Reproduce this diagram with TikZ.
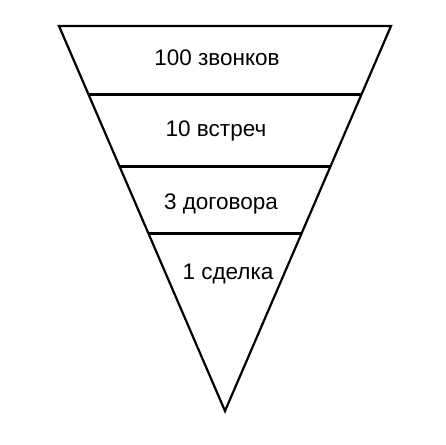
\documentclass[tikz,border=0pt]{standalone}
\usepackage{fontspec}
\setmainfont{Liberation Sans}
\usetikzlibrary{calc}

\begin{document}
\begin{tikzpicture} [x=1pt,y=-1pt]
\useasboundingbox (0,0) rectangle (446,444);
\tikzset{lbl/.style={anchor=base, inner sep=0pt, font=\fontsize{22.5}{26}\selectfont}}
\coordinate (tl) at (59,26);
\coordinate (tr) at (391,26);
\coordinate (ap) at (225,411);
\draw[black, line width=2.2pt, line join=miter] (tl)--(tr)--(ap)--cycle;
\foreach \y in {95,166,233} {
 \draw[black, line width=3pt] ($(tl)!{(\y-26)/385}!(ap)$)--($(tr)!{(\y-26)/385}!(ap)$);
 }
\node[lbl] (calls) at (217,65) {100 звонков};
\node[lbl] (meets) at (216,136) {10 встреч};
\node[lbl] (deals) at (221,209) {3 договора};
\node[lbl] (sale) at (228,279) {1 сделка};
\end{tikzpicture}
\end{document}
